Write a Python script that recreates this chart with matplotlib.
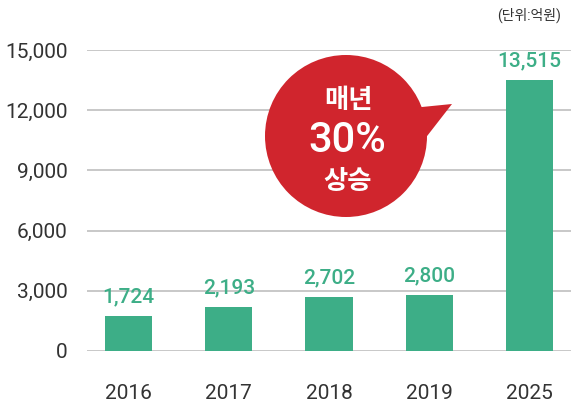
import numpy as np
import matplotlib.pyplot as plt
from matplotlib.patches import Circle, Polygon

plt.rcParams['font.family'] = ['Roboto', 'Noto Sans CJK KR', 'DejaVu Sans']

years = ['2016', '2017', '2018', '2019', '2025']
values = [1724, 2193, 2702, 2800, 13515]
yticks = [0, 3000, 6000, 9000, 12000, 15000]

green = '#3dae87'
red = '#d0252d'
grey = '#333333'

fig = plt.figure(figsize=(5.71, 4.07), dpi=100)
ax = fig.add_axes([87 / 571, 1 - 351 / 407, 1 - 87 / 571, 301 / 407])

x = np.arange(len(years))
ax.bar(x, values, width=0.47, color=green, zorder=2)
for xi, v in zip(x, values):
    ax.annotate(f'{v:,}', (xi, v), xytext=(0, 7), textcoords='offset points',
                ha='center', va='bottom', fontsize=15, color=green,
                fontweight='medium')

ax.set_xlim(-0.414, 4.414)
ax.set_ylim(0, 15000)
ax.set_yticks(yticks)
ax.set_yticklabels([f'{t:,}' for t in yticks], fontsize=15, color=grey)
ax.set_xticks(x)
ax.set_xticklabels(years, fontsize=15, color=grey)
ax.tick_params(axis='y', length=0, pad=14)
ax.tick_params(axis='x', length=0, pad=24)
ax.grid(axis='y', color='#c8c8c8', linewidth=1.4, zorder=0)
for s in ax.spines.values():
    s.set_visible(False)

# overlay in pixel coords for the bubble and unit note
ov = fig.add_axes([0, 0, 1, 1])
ov.set_xlim(0, 571)
ov.set_ylim(407, 0)
ov.axis('off')
ov.add_patch(Polygon([[412, 108], [452, 104], [424, 140]], closed=True,
                     color=red, lw=0, zorder=3))
ov.add_patch(Circle((346, 136), 81, color=red, lw=0, zorder=3))
ov.text(348, 101, '매년', ha='center', va='center', fontsize=19,
        fontweight='bold', color='white', zorder=4)
ov.text(347, 140, '30%', ha='center', va='center', fontsize=30,
        fontweight='medium', color='white', zorder=4)
ov.text(348, 182, '상승', ha='center', va='center', fontsize=19,
        fontweight='bold', color='white', zorder=4)
ov.text(561, 15, '(단위:억원)', ha='right', va='center', fontsize=10,
        color=grey)

fig.savefig('out.png', dpi=100)
